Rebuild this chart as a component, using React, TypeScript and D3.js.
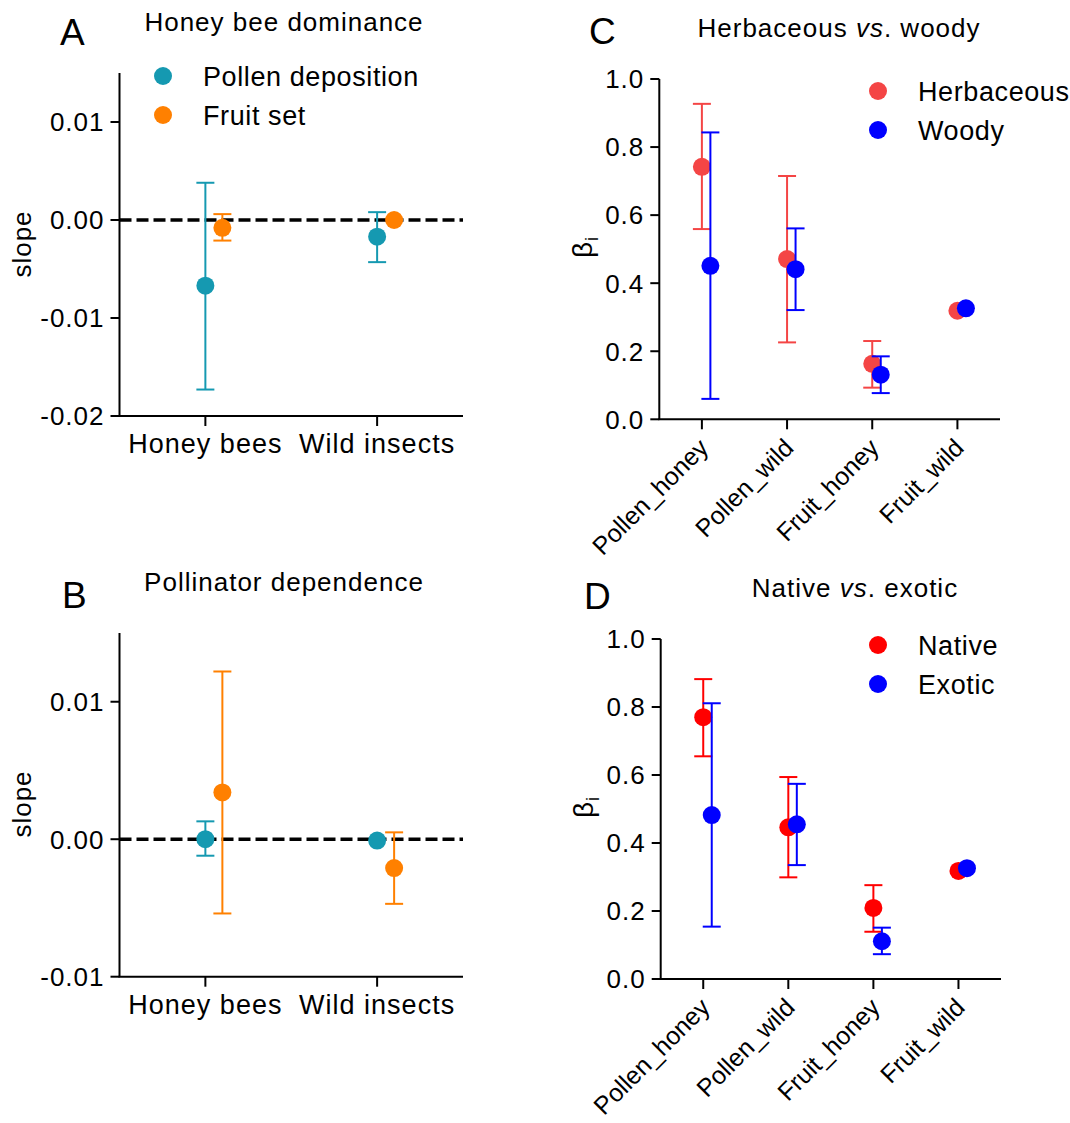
import React from "react";
import * as d3 from "d3";

// panels A and B: slopes by pollinator group
const groupCategories = ["Honey bees", "Wild insects"];
const groupSeries = ["Pollen deposition", "Fruit set"];
const groupColors = ["#1599b1", "#ff8000"];

const aPollenMean = [-0.0067, -0.0017];
const aPollenLow = [-0.0173, -0.0043];
const aPollenHigh = [0.0038, 0.0008];
const aFruitMean = [-0.0008, 0.0];
const aFruitLow = [-0.0021, null];
const aFruitHigh = [0.0006, null];
const aTicks = [-0.02, -0.01, 0.0, 0.01];

const bPollenMean = [0.0, -0.0001];
const bPollenLow = [-0.0012, null];
const bPollenHigh = [0.0013, null];
const bFruitMean = [0.0034, -0.0021];
const bFruitLow = [-0.0054, -0.0047];
const bFruitHigh = [0.0122, 0.0005];
const bTicks = [-0.01, 0.0, 0.01];

// panels C and D: beta_i by plant type
const betaCategories = ["Pollen_honey", "Pollen_wild", "Fruit_honey", "Fruit_wild"];
const betaTicks = [0, 0.2, 0.4, 0.6, 0.8, 1.0];

const cSeries = ["Herbaceous", "Woody"];
const cColors = ["#f44545", "#0000ff"];
const herbMean = [0.742, 0.471, 0.163, 0.319];
const herbLow = [0.559, 0.226, 0.093, null];
const herbHigh = [0.927, 0.715, 0.23, null];
const woodyMean = [0.451, 0.441, 0.131, 0.326];
const woodyLow = [0.06, 0.321, 0.077, null];
const woodyHigh = [0.843, 0.561, 0.185, null];

const dSeries = ["Native", "Exotic"];
const dColors = ["#ff0000", "#0000ff"];
const nativeMean = [0.77, 0.446, 0.209, 0.318];
const nativeLow = [0.655, 0.299, 0.139, null];
const nativeHigh = [0.882, 0.594, 0.276, null];
const exoticMean = [0.482, 0.455, 0.111, 0.326];
const exoticLow = [0.154, 0.335, 0.073, null];
const exoticHigh = [0.811, 0.574, 0.151, null];

const font = "Arial, 'Liberation Sans', sans-serif";

type Series = { name: string; color: string; mean: number[]; low: (number | null)[]; high: (number | null)[] };

type PanelProps = {
  letter: string;
  letterX: number;
  letterY: number;
  title: React.ReactNode;
  titleX: number;
  titleY: number;
  x0: number;
  x1: number;
  yTop: number;
  yBottom: number;
  domain: [number, number];
  ticks: number[];
  tickFmt: (v: number) => string;
  categories: string[];
  series: Series[];
  offset: number;
  rotated: boolean;
  yLabel: React.ReactNode;
  yLabelX: number;
  yLabelY: number;
  zeroLine: boolean;
  legend?: { x: number; y: number };
};

const Panel = (p: PanelProps) => {
  const x = d3.scaleBand().domain(p.categories).range([p.x0, p.x1]).padding(0);
  const y = d3.scaleLinear().domain(p.domain).range([p.yBottom, p.yTop]);
  const cx = (c: string) => (x(c) as number) + x.bandwidth() / 2;
  const cap = 9;

  return (
    <g fontFamily={font}>
      <text x={p.letterX} y={p.letterY} fontSize={37}>{p.letter}</text>
      <text x={p.titleX} y={p.titleY} fontSize={26} letterSpacing={1} textAnchor="middle">{p.title}</text>

      {/* y axis */}
      <line x1={p.x0} x2={p.x0} y1={p.yTop} y2={p.yBottom} stroke="#000" strokeWidth={2} />
      {p.ticks.map((t) => (
        <g key={t}>
          <line x1={p.x0 - 9} x2={p.x0} y1={y(t)} y2={y(t)} stroke="#000" strokeWidth={2} />
          <text x={p.x0 - 15} y={y(t)} dy="0.36em" textAnchor="end" fontSize={26} letterSpacing={1}>
            {p.tickFmt(t)}
          </text>
        </g>
      ))}
      <text
        transform={`translate(${p.yLabelX},${p.yLabelY}) rotate(-90)`}
        textAnchor="middle"
        fontSize={26}
        letterSpacing={1}
      >
        {p.yLabel}
      </text>

      {/* x axis */}
      <line x1={p.x0 - 1} x2={p.x1} y1={p.yBottom} y2={p.yBottom} stroke="#000" strokeWidth={2} />
      {p.categories.map((c) => (
        <g key={c}>
          <line x1={cx(c)} x2={cx(c)} y1={p.yBottom} y2={p.yBottom + 10} stroke="#000" strokeWidth={2} />
          {p.rotated ? (
            <text
              transform={`translate(${cx(c) + 8},${p.yBottom + 30}) rotate(-45)`}
              textAnchor="end"
              fontSize={25}
            >
              {c}
            </text>
          ) : (
            <text x={cx(c)} y={p.yBottom + 37} textAnchor="middle" fontSize={27} letterSpacing={1}>
              {c}
            </text>
          )}
        </g>
      ))}

      {p.zeroLine && (
        <line
          x1={p.x0}
          x2={p.x1}
          y1={y(0)}
          y2={y(0)}
          stroke="#000"
          strokeWidth={3.5}
          strokeDasharray="12,5"
        />
      )}

      {p.series.map((s, si) => (
        <g key={s.name}>
          {p.categories.map((c, i) => {
            const px = cx(c) + si * p.offset;
            const lo = s.low[i];
            const hi = s.high[i];
            return (
              <g key={c}>
                {lo !== null && hi !== null && (
                  <g stroke={s.color} strokeWidth={2}>
                    <line x1={px} x2={px} y1={y(lo)} y2={y(hi)} />
                    <line x1={px - cap} x2={px + cap} y1={y(lo)} y2={y(lo)} />
                    <line x1={px - cap} x2={px + cap} y1={y(hi)} y2={y(hi)} />
                  </g>
                )}
                <circle cx={px} cy={y(s.mean[i])} r={9} fill={s.color} />
              </g>
            );
          })}
        </g>
      ))}

      {/* legend */}
      {p.legend &&
        p.series.map((s, si) => (
          <g key={s.name}>
            <circle cx={p.legend!.x} cy={p.legend!.y + si * 39} r={9} fill={s.color} />
            <text
              x={p.legend!.x + 40}
              y={p.legend!.y + si * 39}
              dy="0.36em"
              fontSize={27}
              letterSpacing={0.6}
            >
              {s.name}
            </text>
          </g>
        ))}
    </g>
  );
};

const beta = (
  <>
    <tspan fontSize={28}>β</tspan>
    <tspan fontSize={18} dy={6}>i</tspan>
  </>
);

const App = () => {
  const aSeries: Series[] = [
    { name: groupSeries[0], color: groupColors[0], mean: aPollenMean, low: aPollenLow, high: aPollenHigh },
    { name: groupSeries[1], color: groupColors[1], mean: aFruitMean, low: aFruitLow, high: aFruitHigh },
  ];
  const bSeries: Series[] = [
    { name: groupSeries[0], color: groupColors[0], mean: bPollenMean, low: bPollenLow, high: bPollenHigh },
    { name: groupSeries[1], color: groupColors[1], mean: bFruitMean, low: bFruitLow, high: bFruitHigh },
  ];
  const cSer: Series[] = [
    { name: cSeries[0], color: cColors[0], mean: herbMean, low: herbLow, high: herbHigh },
    { name: cSeries[1], color: cColors[1], mean: woodyMean, low: woodyLow, high: woodyHigh },
  ];
  const dSer: Series[] = [
    { name: dSeries[0], color: dColors[0], mean: nativeMean, low: nativeLow, high: nativeHigh },
    { name: dSeries[1], color: dColors[1], mean: exoticMean, low: exoticLow, high: exoticHigh },
  ];
  const fmt2 = (v: number) => d3.format(".2f")(v).replace("−", "-");
  const fmt1 = (v: number) => d3.format(".1f")(v);

  return (
    <div style={{ position: "absolute", left: 0, top: 0 }}>
      <svg width={1070} height={1123} style={{ display: "block", background: "#fff" }}>
        <Panel
          letter="A" letterX={60} letterY={45}
          title="Honey bee dominance" titleX={284} titleY={31}
          x0={119.5} x1={463} yTop={73} yBottom={416}
          domain={[-0.02, 0.015]} ticks={aTicks} tickFmt={fmt2}
          categories={groupCategories} series={aSeries} offset={17} rotated={false}
          yLabel="slope" yLabelX={31} yLabelY={244}
          zeroLine={true} legend={{ x: 163, y: 76 }}
        />
        <Panel
          letter="B" letterX={62} letterY={608}
          title="Pollinator dependence" titleX={284} titleY={591}
          x0={119.5} x1={463} yTop={633} yBottom={976.7}
          domain={[-0.01, 0.015]} ticks={bTicks} tickFmt={fmt2}
          categories={groupCategories} series={bSeries} offset={17} rotated={false}
          yLabel="slope" yLabelX={31} yLabelY={804}
          zeroLine={true}
        />
        <Panel
          letter="C" letterX={589} letterY={44}
          title={<><tspan>Herbaceous </tspan><tspan fontStyle="italic">vs</tspan><tspan>. woody</tspan></>}
          titleX={839} titleY={37}
          x0={659.3} x1={1000} yTop={79} yBottom={419.3}
          domain={[0, 1]} ticks={betaTicks} tickFmt={fmt1}
          categories={betaCategories} series={cSer} offset={8.5} rotated={true}
          yLabel={beta} yLabelX={592} yLabelY={247}
          zeroLine={false} legend={{ x: 878, y: 91 }}
        />
        <Panel
          letter="D" letterX={584} letterY={609}
          title={<><tspan>Native </tspan><tspan fontStyle="italic">vs</tspan><tspan>. exotic</tspan></>}
          titleX={855} titleY={597}
          x0={660.7} x1={1001} yTop={639} yBottom={979}
          domain={[0, 1]} ticks={betaTicks} tickFmt={fmt1}
          categories={betaCategories} series={dSer} offset={8.5} rotated={true}
          yLabel={beta} yLabelX={593} yLabelY={807}
          zeroLine={false} legend={{ x: 878, y: 645 }}
        />
      </svg>
    </div>
  );
};

export default App;
